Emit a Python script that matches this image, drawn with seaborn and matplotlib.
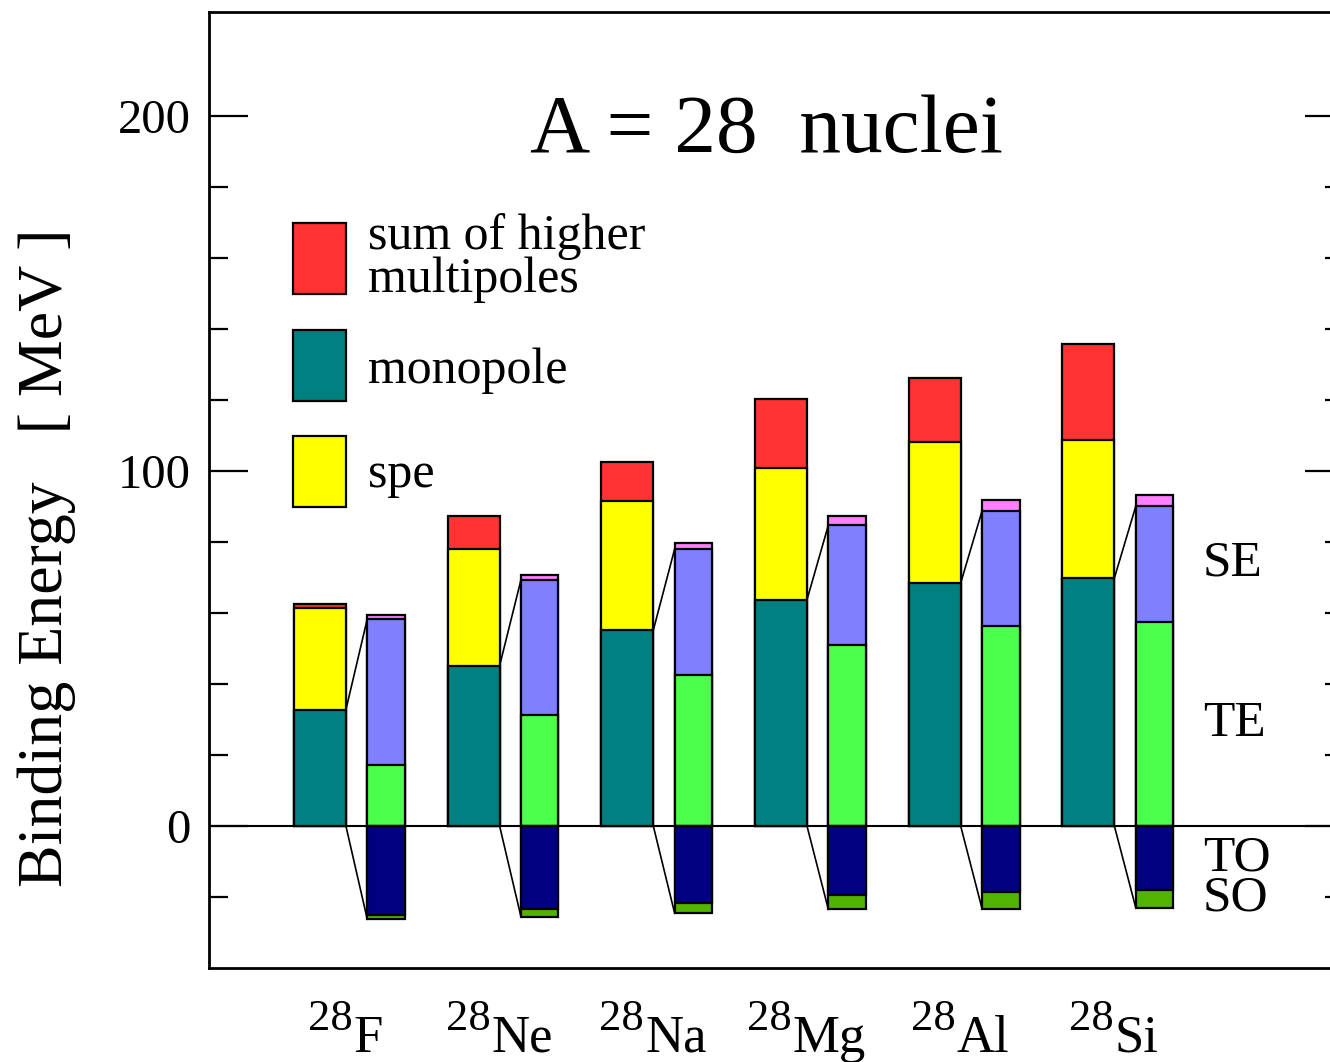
import matplotlib
matplotlib.use("Agg")
import matplotlib.pyplot as plt
from matplotlib.patches import Rectangle
from matplotlib.ticker import FixedLocator
import seaborn as sns

# ---- data -------------------------------------------------------------
nuclei = ["F", "Ne", "Na", "Mg", "Al", "Si"]
mass_number = "28"

# left column of each nucleus (MeV)
monopole = [32.8, 45.2, 55.2, 63.8, 68.5, 69.9]
spe = [28.7, 33.0, 36.5, 37.1, 39.8, 38.8]
higher = [1.2, 9.1, 10.8, 19.4, 18.1, 27.1]

# right column: decomposition of the monopole part (MeV)
te = [17.3, 31.4, 42.5, 50.9, 56.4, 57.5]
se = [41.1, 38.0, 35.6, 33.9, 32.4, 32.6]
other = [1.0, 1.4, 1.8, 2.6, 3.1, 3.1]
to = [-25.2, -23.3, -21.6, -19.4, -18.6, -18.1]
so = [-1.1, -2.3, -3.0, -4.1, -4.7, -4.9]

legend_labels = ["sum of higher\nmultipoles", "monopole", "spe"]
side_labels = ["SE", "TE"]
side_label_y = [70.6, 25.3]
lower_labels = "TO\nSO"

major_ticks = [0, 100, 200]
minor_ticks = [-20, 20, 40, 60, 80, 120, 140, 160, 180]

# ---- colours ------------------------------------------------------------
C_RED, C_TEAL, C_YEL = "#FF3333", "#008080", "#FFFF00"
C_BLUE, C_GREEN, C_PINK = "#8080FF", "#4CFF4C", "#FF80FF"
C_NAVY, C_DKGREEN = "#000080", "#50B400"

# ---- style --------------------------------------------------------------
sns.set_theme(style="ticks")
plt.rcParams["font.family"] = ["Liberation Serif", "DejaVu Serif"]
plt.rcParams["text.color"] = "black"
plt.rcParams["axes.labelcolor"] = "black"
plt.rcParams["xtick.color"] = "black"
plt.rcParams["ytick.color"] = "black"
plt.rcParams["axes.edgecolor"] = "black"

W_PX, H_PX, DPI = 1330, 1062, 100
fig = plt.figure(figsize=(W_PX / DPI, H_PX / DPI), dpi=DPI)
ax = fig.add_axes([209 / W_PX, 94 / H_PX, 1135 / W_PX, 956 / H_PX])

n = len(nuclei)
dx = 0.215
x_left = [i - dx for i in range(n)]
x_right = [i + dx for i in range(n)]
w_left, w_right = 0.338, 0.244
EDGE = 1.6


def cumulative(*cols):
    out = []
    acc = [0.0] * n
    for col in cols:
        acc = [a + c for a, c in zip(acc, col)]
        out.append(acc)
    return out


def layer(xpos, heights, width, color):
    sns.barplot(x=xpos, y=heights, native_scale=True, orient="x",
                width=width, color=color, saturation=1,
                edgecolor="black", linewidth=EDGE, errorbar=None, ax=ax,
                zorder=3)


ax.axhline(0, color="black", lw=1.5, zorder=2)

# left stacked column (draw the full stack first, lower parts on top)
c_mono, c_spe, c_high = cumulative(monopole, spe, higher)
layer(x_left, c_high, w_left, C_RED)
layer(x_left, c_spe, w_left, C_YEL)
layer(x_left, c_mono, w_left, C_TEAL)

# right stacked column, positive part
c_te, c_se, c_oth = cumulative(te, se, other)
layer(x_right, c_oth, w_right, C_PINK)
layer(x_right, c_se, w_right, C_BLUE)
layer(x_right, c_te, w_right, C_GREEN)

# right stacked column, negative part
c_to, c_so = cumulative(to, so)
layer(x_right, c_so, w_right, C_DKGREEN)
layer(x_right, c_to, w_right, C_NAVY)

# connector lines between the monopole bar and its decomposition
for i in range(n):
    x0 = x_left[i] + w_left / 2
    x1 = x_right[i] - w_right / 2
    ax.plot([x0, x1], [c_mono[i], c_se[i]], color="black", lw=1.2, zorder=4)
    ax.plot([x0, x1], [0, c_so[i]], color="black", lw=1.2, zorder=4)

# ---- axes ---------------------------------------------------------------
ax.set_xlim(-0.937, 6.448)
ax.set_ylim(-40, 229.4)
ax.set_xlabel("")
ax.set_ylabel("")
ax.set_xticks([])
ax.yaxis.set_major_locator(FixedLocator(major_ticks))
ax.yaxis.set_minor_locator(FixedLocator(minor_ticks))
ax.tick_params(axis="y", which="both", direction="in", left=True, right=True,
               labelright=False, colors="black")
ax.tick_params(axis="y", which="major", length=28, width=1.6, labelsize=35, pad=13)
ax.tick_params(axis="y", which="minor", length=14, width=1.6)
for s in ax.spines.values():
    s.set_linewidth(2.0)
    s.set_color("black")
    s.set_visible(True)

fig.text(47 / W_PX, 1 - 558 / H_PX, "Binding Energy   [ MeV ]",
         rotation=90, ha="center", va="center", fontsize=46)

ax.text(0.491, 0.854, "A = 28  nuclei", transform=ax.transAxes,
        ha="center", va="baseline", fontsize=60)

# legend boxes
leg_colors = [C_RED, C_TEAL, C_YEL]
box_y = [0.7047, 0.5931, 0.4819]
for col, y0 in zip(leg_colors, box_y):
    ax.add_patch(Rectangle((0.0743, y0), 0.0464, 0.0743, transform=ax.transAxes,
                           facecolor=col, edgecolor="black", lw=1.6, zorder=5,
                           clip_on=False))
ax.text(0.1404, 0.7074, legend_labels[0], transform=ax.transAxes,
        va="baseline", ha="left", fontsize=36, linespacing=0.9)
ax.text(0.1404, 0.6122, legend_labels[1], transform=ax.transAxes,
        va="baseline", ha="left", fontsize=36)
ax.text(0.1404, 0.5035, legend_labels[2], transform=ax.transAxes,
        va="baseline", ha="left", fontsize=36)

# component labels at the right
for lab, yv in zip(side_labels, side_label_y):
    ax.text(5.53, yv, lab, ha="left", va="baseline", fontsize=37)
ax.text(5.53, -23.7, lower_labels, ha="left", va="baseline", fontsize=37,
        linespacing=0.8)

# nucleus labels with the mass number as a raised prefix
fig.canvas.draw()
renderer = fig.canvas.get_renderer()
label_y = -0.0876
for i, sym in enumerate(nuclei):
    probe_el = fig.text(0, 0, sym, fontsize=38)
    probe_ms = fig.text(0, 0, mass_number, fontsize=32)
    w_el = probe_el.get_window_extent(renderer).width
    w_ms = probe_ms.get_window_extent(renderer).width
    probe_el.remove()
    probe_ms.remove()
    start = -8 - (w_el + w_ms) / 2
    ax.annotate(mass_number, xy=(i, label_y), xycoords=("data", "axes fraction"),
                xytext=(start, 22), textcoords="offset pixels",
                ha="left", va="baseline", fontsize=32, annotation_clip=False)
    ax.annotate(sym, xy=(i, label_y), xycoords=("data", "axes fraction"),
                xytext=(start + w_ms + 1, 0), textcoords="offset pixels",
                ha="left", va="baseline", fontsize=38, annotation_clip=False)

fig.savefig("out.png", dpi=DPI)
